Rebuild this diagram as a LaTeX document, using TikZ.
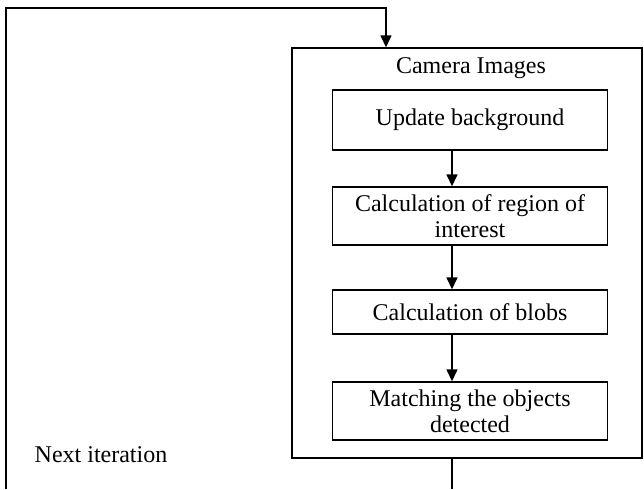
\documentclass[tikz,border=0pt]{standalone}
\usepackage{fontspec}
\setmainfont{Liberation Serif}
\usetikzlibrary{arrows.meta}

\begin{document}
\begin{tikzpicture}[x=0.5pt,y=-0.5pt,line width=0.7pt,-,font=\fontsize{12}{13}\selectfont]
  \tikzstyle{stage}=[draw,minimum width=137.5pt,inner sep=0pt,align=center]
  \tikzstyle{flow}=[-{Triangle[length=6pt,width=5.5pt]}]
  \useasboundingbox (0,0) rectangle (644,489);

  \node[draw,minimum width=175pt,minimum height=205pt] (cam) at (467,253) {};
  \node (cam-title) at (471,68) {Camera Images};

  \foreach \name/\y/\h/\text in {upd/120/30/{Update background}, roi/216/29/{Calculation of region of\\interest}, blobs/312/22/{Calculation of blobs}, match/411/29/{Matching the objects\\detected}}
    \node[stage,minimum height=\h pt] (\name) at (470,\y) {\text};

  \coordinate (axis) at (452,0);
    \foreach \from/\to in {upd/roi,roi/blobs,blobs/match}
    { \draw[flow] (\from.south -| axis) -- (\to.north -| axis);}

  % loop back to the camera images
  \coordinate (loop-in) at (6,489);
  \coordinate (loop-top) at (386,8);
  \coordinate (loop-out) at (452,489);
  \draw[flow] (loop-in) |- (loop-top) -- (loop-top |- cam.north);
  \draw (cam.south -| axis) -- (loop-out);
  \node (next) at (101,455) {Next iteration};

\end{tikzpicture}
\end{document}
